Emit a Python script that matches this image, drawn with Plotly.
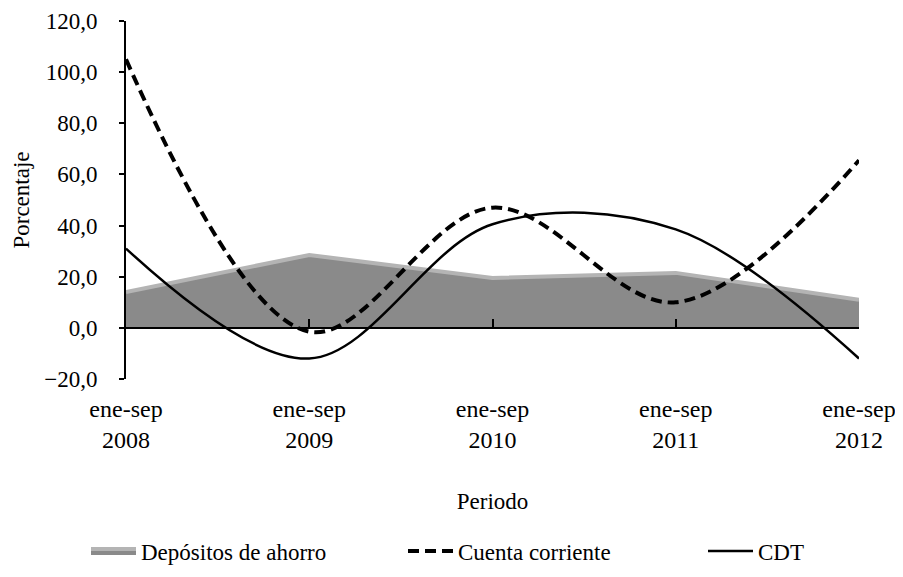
import plotly.graph_objects as go

# Datos (porcentaje)
periodos = ["ene-sep<br>2008", "ene-sep<br>2009", "ene-sep<br>2010",
            "ene-sep<br>2011", "ene-sep<br>2012"]
depositos_ahorro = [14.0, 28.5, 19.5, 21.5, 11.0]
cuenta_corriente = [105.0, -1.5, 47.0, 10.0, 65.5]
cdt = [31.0, -12.0, 40.5, 38.5, -12.0]

FUENTE = "Liberation Serif"
ANCHO, ALTO = 903, 577   # la página desplaza la figura 8 px
pos = list(range(len(periodos)))

fig = go.Figure()

# área en el eje principal (debajo)
fig.add_trace(go.Scatter(
    x=pos, y=depositos_ahorro, name="Depósitos de ahorro", legend="legend",
    mode="lines", fill="tozeroy", fillcolor="#8a8a8a",
    line=dict(color="#b4b4b4", width=4), hoverinfo="skip",
))

# líneas en el eje superpuesto (encima), cuya línea es el cero
fig.add_trace(go.Scatter(
    x=pos, y=cuenta_corriente, name="Cuenta corriente", legend="legend2",
    xaxis="x2", mode="lines",
    line=dict(color="black", width=4, dash="11px,6px", shape="spline", smoothing=1),
))

fig.add_trace(go.Scatter(
    x=pos, y=cdt, name="CDT", legend="legend3", xaxis="x2", mode="lines",
    line=dict(color="black", width=2.5, shape="spline", smoothing=1),
))


def leyenda(x_px):
    return dict(
        orientation="h", xref="container", yref="container",
        x=x_px / ANCHO, xanchor="left", y=1 - 543 / ALTO, yanchor="middle",
        font=dict(family=FUENTE, size=23), itemwidth=45,
        bgcolor="rgba(0,0,0,0)",
    )


fig.update_layout(
    width=ANCHO, height=ALTO,
    margin=dict(l=118, r=52, t=13, b=206, autoexpand=False),
    paper_bgcolor="white", plot_bgcolor="white",
    font=dict(family=FUENTE, size=23, color="black"),
    separators=",.",
    showlegend=True,
    legend=leyenda(78),
    legend2=leyenda(395),
    legend3=leyenda(695),
    xaxis=dict(
        range=[0, 4], anchor="y", side="bottom",
        showgrid=False, showline=False, zeroline=False,
        tickvals=pos, ticktext=periodos, ticks="", ticklabelstandoff=13,
        ticklabeloverflow="allow",
        tickfont=dict(family=FUENTE, size=24),
        title=dict(text="Periodo", font=dict(family=FUENTE, size=23), standoff=40),
    ),
    xaxis2=dict(
        range=[0, 4], overlaying="x", anchor="free", position=20 / 140,
        showgrid=False, showline=True, linecolor="black", linewidth=2,
        zeroline=False, tickvals=pos, ticks="inside", ticklen=8,
        tickcolor="black", tickwidth=1.5, showticklabels=False,
    ),
    yaxis=dict(
        range=[-20, 120], dtick=20, tickformat=".1f", showgrid=False,
        zeroline=False, showline=True, linecolor="black", linewidth=2,
        ticks="outside", ticklen=5, tickcolor="black", tickwidth=1.5,
        ticklabelstandoff=17, ticklabeloverflow="allow",
        tickfont=dict(family=FUENTE, size=23),
        title=dict(text="Porcentaje", font=dict(family=FUENTE, size=23), standoff=8),
    ),
)

fig.write_html("out.html")
